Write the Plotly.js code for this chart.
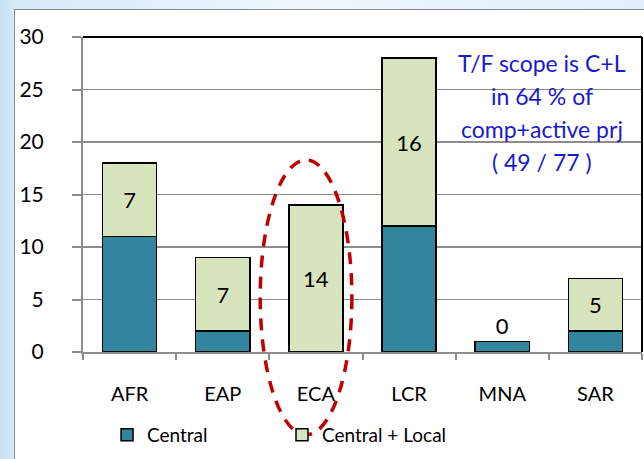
<!DOCTYPE html>
<html><head><meta charset="utf-8">
<script src="https://cdn.plot.ly/plotly-3.0.1.min.js"></script>
<style>
html,body{margin:0;padding:0;width:644px;height:459px;overflow:hidden;}
body{background:linear-gradient(90deg,#c3e0f5 0px,#d6ebf9 14px,#eef6fc 300px,#e3effa 644px);position:relative;}
#frame{position:absolute;left:14px;top:9px;width:640px;height:460px;background:#fff;border:1.5px solid #8a8a8a;box-sizing:border-box;}
#chart{position:absolute;left:0;top:0;width:644px;height:459px;}
</style></head>
<body>
<div id="frame"></div>
<div id="chart"></div>
<script>
const categories = ["AFR","EAP","ECA","LCR","MNA","SAR"];
const central = [11, 2, 0, 12, 1, 2];
const centralLocal = [7, 7, 14, 16, 0, 5];
const noteLines = ["T/F scope is C+L","in 64 % of","comp+active prj","( 49 / 77 )"];

const FONT = "Lato, 'Open Sans', sans-serif";
const traces = [
  {type:"bar", name:"Central", x:categories, y:central, legend:"legend",
   marker:{color:"#31859c", line:{color:"#000", width:1.5}}, hoverinfo:"skip"},
  {type:"bar", name:"Central + Local", x:categories, y:centralLocal, legend:"legend2",
   marker:{color:"#d7e4bd", line:{color:"#000", width:1.5}},
   text:centralLocal.map(String), texttemplate:"%{text}",
   textposition:centralLocal.map(v=>v===0?"outside":"inside"),
   insidetextanchor:"middle", textangle:0,
   textfont:{family:FONT,size:22,color:"#000"}, cliponaxis:false, hoverinfo:"skip"}
];
const noteY = [0.917,0.813,0.708,0.603];
const annotations = noteLines.map((t,i)=>({xref:"paper",yref:"paper",x:0.821,y:noteY[i],
  text:t, showarrow:false, xanchor:"center", yanchor:"middle",
  font:{family:FONT,size:23,color:"#1a1acc"}}));
const legendFont = {family:FONT,size:19,color:"#000"};
const layout = {
  width:644, height:459, margin:{l:83,r:2,t:37,b:107},
  paper_bgcolor:"rgba(0,0,0,0)", plot_bgcolor:"#fff",
  barmode:"stack", bargap:0.42,
  font:{family:FONT,size:20,color:"#000"},
  xaxis:{type:"category", showline:true, linecolor:"#8c8c8c", linewidth:2,
    ticks:"outside", tickson:"boundaries", ticklen:6, tickcolor:"#8c8c8c", tickwidth:2,
    ticklabelstandoff:23, tickfont:{family:FONT,size:20,color:"#000"}, showgrid:false, fixedrange:true},
  yaxis:{range:[0,30], dtick:5, showline:true, linecolor:"#8c8c8c", linewidth:2,
    ticks:"outside", ticklen:9, tickcolor:"#8c8c8c", tickwidth:2,
    ticklabelstandoff:24, tickfont:{family:FONT,size:21,color:"#000"},
    showgrid:true, gridcolor:"#8c8c8c", gridwidth:1.5, zeroline:false, fixedrange:true},
  showlegend:true,
  legend:{orientation:"h", x:0.043, xanchor:"left", y:-0.263, yanchor:"middle",
    font:legendFont, itemwidth:30, bgcolor:"rgba(0,0,0,0)"},
  legend2:{orientation:"h", x:0.356, xanchor:"left", y:-0.263, yanchor:"middle",
    font:legendFont, itemwidth:30, bgcolor:"rgba(0,0,0,0)"},
  annotations:annotations,
  shapes:[
    {type:"rect", xref:"paper", yref:"paper", x0:0.662, x1:0.98, y0:0.53, y1:0.985,
     fillcolor:"#fff", line:{width:0}, layer:"below"},
    {type:"line", xref:"paper", yref:"paper", x0:0, x1:1, y0:1, y1:1, line:{color:"#000",width:2}},
    {type:"line", xref:"paper", yref:"paper", x0:1, x1:1, y0:0, y1:1, line:{color:"#000",width:2}},
    {type:"circle", xref:"paper", yref:"paper", x0:0.317, x1:0.481, y0:-0.263, y1:0.61,
     line:{color:"#c00000", width:3.5, dash:"12px,9px"}, fillcolor:"rgba(0,0,0,0)", layer:"above"}
  ]
};
Plotly.newPlot("chart", traces, layout, {staticPlot:true, displayModeBar:false});
</script>
</body></html>
